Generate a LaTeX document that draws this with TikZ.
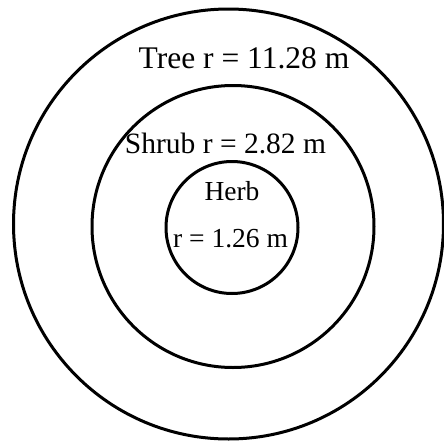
\documentclass[tikz,border=0pt]{standalone}
\usepackage{fontspec}
\setmainfont{Liberation Serif}
\begin{document}
\begin{tikzpicture}[x=1pt, y=-1pt, line width=3pt,
    lbl/.style={anchor=base, inner sep=0pt}]
    \useasboundingbox (0,0) rectangle (444,445);
    % Plot boundaries
    \draw (228.5,224) circle (215pt);
    \draw (233,226.5) circle (141pt);
    \draw (232,227.5) circle (66pt);

    % Radius labels
    \node[lbl, font=\fontsize{31.5}{36}\selectfont] (tree) at (244,68) {Tree r = 11.28 m};
    \node[lbl, font=\fontsize{29.5}{34}\selectfont] (shrub) at (225.5,153) {Shrub r = 2.82 m};
    \node[lbl, font=\fontsize{27.5}{32}\selectfont] (herb) at (232,200) {Herb};
    \node[lbl, font=\fontsize{27.5}{32}\selectfont] (herbr) at (230.5,247) {r = 1.26 m};
\end{tikzpicture}
\end{document}
